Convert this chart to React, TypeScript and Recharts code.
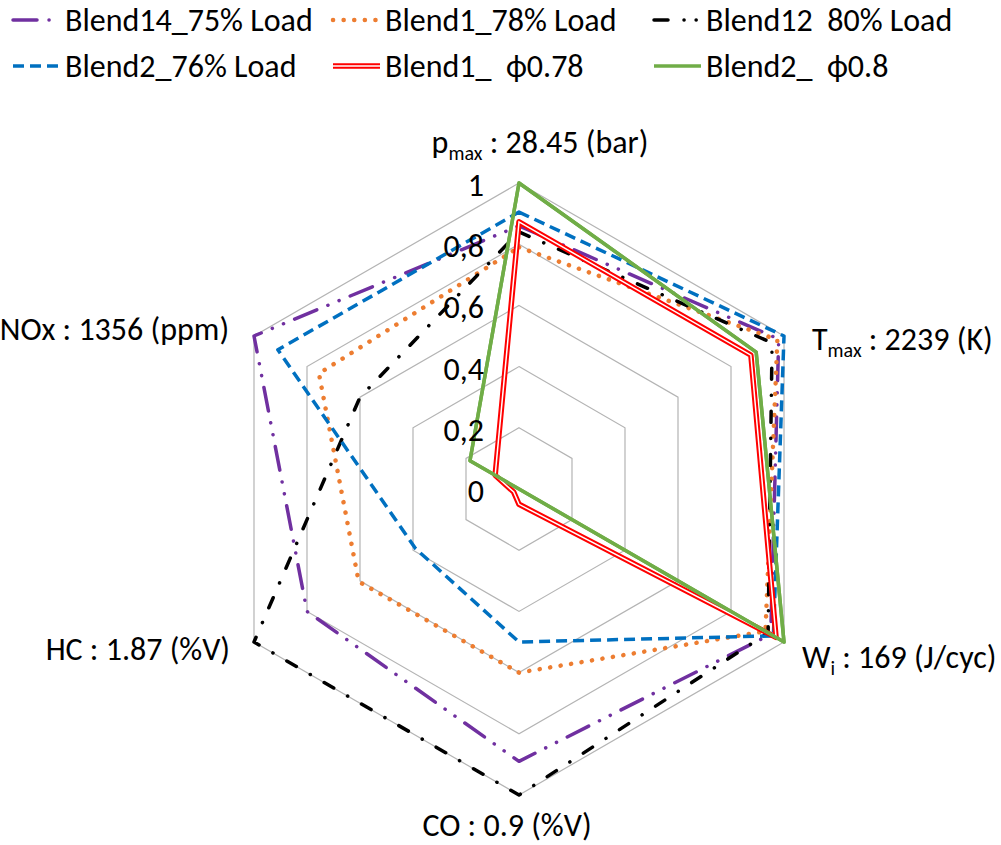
import React from 'react';
import { RadarChart, PolarGrid, PolarAngleAxis, PolarRadiusAxis, Radar } from 'recharts';

// ---- data ----
const axisKeys = ['pmax', 'Tmax', 'Wi', 'CO', 'HC', 'NOx'];
const blend14_75Load = [0.86, 0.98, 0.95, 0.89, 0.8, 1.0];
const blend1_78Load = [0.79, 0.975, 0.93, 0.6, 0.605, 0.755];
const blend12_80Load = [0.84, 0.955, 0.94, 1.0, 1.0, 0.6];
const blend2_76Load = [0.905, 1.0, 0.96, 0.5, 0.39, 0.91];
const blend1_phi078 = [0.873, 0.875, 0.97, 0.05, 0.02, 0.09];
const blend2_phi08 = [1.0, 0.895, 1.0, 0.0, 0.0, 0.185];
const radiusTicks = [0, 0.2, 0.4, 0.6, 0.8, 1];

const axisLabels: Record<string, { main: string; sub?: string; rest?: string }> = {
  pmax: { main: 'p', sub: 'max', rest: ' : 28.45 (bar)' },
  Tmax: { main: 'T', sub: 'max', rest: ' : 2239 (K)' },
  Wi: { main: 'W', sub: 'i', rest: ' : 169 (J/cyc)' },
  CO: { main: 'CO : 0.9 (%V)' },
  HC: { main: 'HC : 1.87 (%V)' },
  NOx: { main: 'NOx : 1356 (ppm)' },
};

const series = [
  { key: 'b14', name: 'Blend14_75% Load', values: blend14_75Load, color: '#7030A0', width: 3.5, dash: '24 12 0.1 12 0.1 12', cap: 'round' },
  { key: 'b1', name: 'Blend1_78% Load', values: blend1_78Load, color: '#ED7D31', width: 4.5, dash: '0.1 10.5', cap: 'round' },
  { key: 'b12', name: 'Blend12  80% Load', values: blend12_80Load, color: '#000000', width: 3.5, dash: '11 16 0.1 16', cap: 'round', legendDash: '14 16 0.1 12 0.1 20' },
  { key: 'b2', name: 'Blend2_76% Load', values: blend2_76Load, color: '#0070C0', width: 3.5, dash: '11 6', cap: 'butt' },
  { key: 'p1', name: 'Blend1_  \u03D50.78', values: blend1_phi078, color: '#FF0000', width: 5.5, dash: undefined, cap: 'butt', double: true },
  { key: 'p2', name: 'Blend2_  \u03D50.8', values: blend2_phi08, color: '#70AD47', width: 3.5, dash: undefined, cap: 'butt' },
];

const data = axisKeys.map((axis, i) => {
  const row: Record<string, any> = { axis };
  series.forEach((s) => {
    row[s.key] = s.values[i];
  });
  return row;
});

const FONT = 'Carlito, Calibri, Lato, Roboto, sans-serif';
const FS = 32;

// label placement per axis (relative to tick anchor point)
const labelPlacement = [
  { anchor: 'middle', dx: 21, dy: -22 },
  { anchor: 'start', dx: 21, dy: 18 },
  { anchor: 'start', dx: 11, dy: 22 },
  { anchor: 'middle', dx: -12, dy: 33 },
  { anchor: 'end', dx: -17, dy: 14 },
  { anchor: 'end', dx: -18, dy: 8 },
];

const AngleTick = (props: any) => {
  const { x, y, payload, index } = props;
  const lbl = axisLabels[payload.value] || { main: String(payload.value) };
  const pl = labelPlacement[index] || { anchor: 'middle', dx: 0, dy: 0 };
  return (
    <text
      x={x + pl.dx}
      y={y + pl.dy}
      textAnchor={pl.anchor}
      fontFamily={FONT}
      fontSize={FS}
      fill="#000"
      style={{ whiteSpace: 'pre' }}
    >
      <tspan>{lbl.main}</tspan>
      {lbl.sub ? (
        <tspan fontSize={20} dy={7}>
          {lbl.sub}
        </tspan>
      ) : null}
      {lbl.rest ? <tspan dy={lbl.sub ? -7 : 0}>{lbl.rest}</tspan> : null}
    </text>
  );
};

const fmtRadius = (v: number) => (v === 0 ? '0' : v === 1 ? '1' : v.toFixed(1).replace('.', ','));

const RadiusTick = (props: any) => {
  const { x, y, payload } = props;
  return (
    <text x={x - 35} y={y + 13} textAnchor="end" fontFamily={FONT} fontSize={FS} fill="#000">
      {fmtRadius(payload.value)}
    </text>
  );
};

const legendCols = [13, 333, 654];
const legendRows = [20, 66];

const LegendBox = () => (
  <svg width={1001} height={100} style={{ position: 'absolute', left: 0, top: 0, pointerEvents: 'none' }}>
    {series.map((s: any, i) => {
      const x0 = legendCols[i % 3];
      const y0 = legendRows[Math.floor(i / 3)];
      return (
        <g key={s.key}>
          <line
            x1={x0}
            x2={x0 + 47}
            y1={y0}
            y2={y0}
            stroke={s.color}
            strokeWidth={s.width}
            strokeDasharray={s.legendDash || s.dash}
            strokeLinecap={s.cap as any}
          />
          {s.double ? <line x1={x0} x2={x0 + 47} y1={y0} y2={y0} stroke="#fff" strokeWidth={1.5} /> : null}
          <text x={x0 + 52} y={y0 + 11} fontFamily={FONT} fontSize={FS} fill="#000" style={{ whiteSpace: 'pre' }}>
            {s.name}
          </text>
        </g>
      );
    })}
  </svg>
);

export default function App() {
  return (
    <div style={{ position: 'absolute', left: 0, top: 0, width: 1001, height: 845, background: '#fff' }}>
      <RadarChart
        width={1001}
        height={845}
        cx={519}
        cy={489}
        outerRadius={306}
        data={data}
        startAngle={90}
        endAngle={-270}
        margin={{ top: 0, right: 0, bottom: 0, left: 0 }}
      >
        <PolarGrid gridType="polygon" radialLines={false} stroke="#B4B4B4" strokeWidth={1.2} />
        <PolarAngleAxis dataKey="axis" tick={AngleTick} tickLine={false} axisLine={false} />
        <PolarRadiusAxis
          angle={90}
          domain={[0, 1]}
          tickCount={6}
          ticks={radiusTicks as any}
          type="number"
          tick={RadiusTick}
          axisLine={false}
          tickLine={false}
        />
        {series.map((s) => (
          <Radar
            key={s.key}
            name={s.name}
            dataKey={s.key}
            stroke={s.color}
            strokeWidth={s.width}
            strokeDasharray={s.dash}
            strokeLinecap={s.cap as any}
            strokeLinejoin="round"
            fill="none"
            fillOpacity={0}
            dot={false}
            isAnimationActive={false}
          />
        ))}
        <Radar
          key="p1-inner"
          dataKey="p1"
          stroke="#FFFFFF"
          strokeWidth={1.5}
          fill="none"
          fillOpacity={0}
          dot={false}
          legendType="none"
          isAnimationActive={false}
        />
        <Radar
          key="p2-top"
          dataKey="p2"
          stroke="#70AD47"
          strokeWidth={3.5}
          strokeLinejoin="round"
          fill="none"
          fillOpacity={0}
          dot={false}
          legendType="none"
          isAnimationActive={false}
        />
      </RadarChart>
      <LegendBox />
    </div>
  );
}
